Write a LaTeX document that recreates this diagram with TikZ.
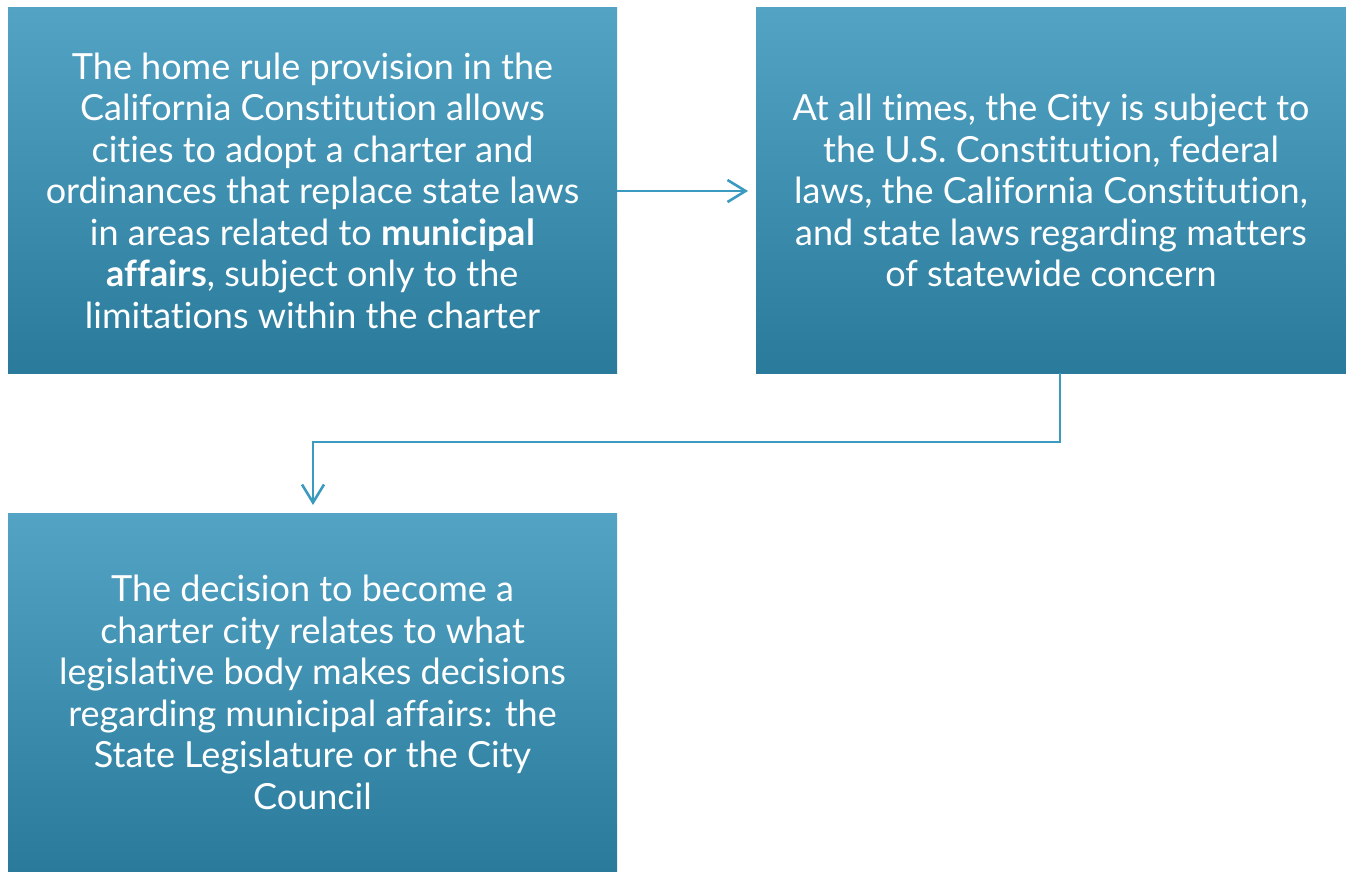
\documentclass[tikz,border=0pt]{standalone}
\usepackage{fontspec}
\setmainfont{Lato}[Ligatures={NoCommon}]
\usetikzlibrary{arrows.meta, positioning}

\definecolor{boxtop}{HTML}{53A3C4}
\definecolor{boxbottom}{HTML}{2A7B9B}
\definecolor{linkblue}{HTML}{3A9AC0}

\begin{document}
\begin{tikzpicture}[x=1pt,y=-1pt,
  box/.style={rectangle, top color=boxtop, bottom color=boxbottom, draw=none, text=white, align=center, inner sep=0pt, font=\fontsize{36}{41.5}\selectfont},
  link/.style={linkblue, line width=2.2pt, -{Straight Barb[length=18pt,width=22pt,line width=2.6pt]}},
]
\useasboundingbox (0,0) rectangle (1346,872);
\node[box, minimum width=609pt, minimum height=365pt] (nRule) at (312.5,190.5)
  {The home rule provision in the\\California Constitution allows\\cities to adopt a charter and\\ordinances that replace state laws\\in areas related to \textbf{municipal}\\\textbf{affairs}, subject only to the\\limitations within the charter};
\node[box, minimum width=590pt, minimum height=365pt] (nLimit) at (1051,190.5)
  {At all times, the City is subject to\\the U.S. Constitution, federal\\laws, the California Constitution,\\and state laws regarding matters\\of statewide concern};
\node[box, minimum width=609pt, minimum height=359pt] (nChoice) at (312.5,692.5)
  {The decision to become a\\charter city relates to what\\legislative body makes decisions\\regarding municipal affairs: the\\State Legislature or the City\\Council};

\coordinate (cTurn) at (1060,442);
\draw[link] (nRule.east |- 0,191) -- (748,191);
\draw[link] (nLimit.south -| cTurn) -- (cTurn) -- (313,442) -- (313,505);
\end{tikzpicture}
\end{document}
